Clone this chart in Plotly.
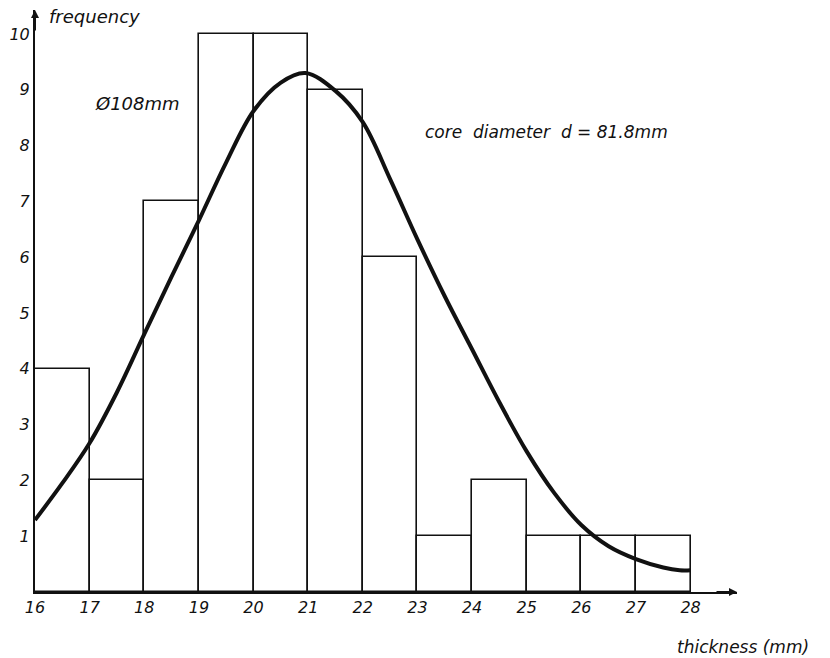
import plotly.graph_objects as go

# Histogram data: bins of width 1 mm starting at these left edges
bin_left = [16, 17, 18, 19, 20, 21, 22, 23, 24, 25, 26, 27]
counts = [4, 2, 7, 10, 10, 9, 6, 1, 2, 1, 1, 1]

# Fitted curve
curve_x = [16.0, 16.5, 17.0, 17.5, 18.0, 18.5, 19.0, 19.5, 20.0, 20.5, 20.95,
           21.5, 22.0, 22.5, 23.0, 23.5, 24.0, 24.5, 25.0, 25.5, 26.0, 26.5,
           27.0, 27.5, 27.8, 28.0]
curve_y = [1.29, 1.95, 2.67, 3.58, 4.62, 5.65, 6.66, 7.70, 8.62, 9.13, 9.30,
           8.98, 8.42, 7.40, 6.32, 5.30, 4.35, 3.40, 2.52, 1.78, 1.20, 0.82,
           0.59, 0.44, 0.39, 0.39]

x_ticks = list(range(16, 29))
y_ticks = list(range(1, 11))

FONT = "DejaVu Sans"
ink = "#111111"

fig = go.Figure()

fig.add_trace(go.Bar(
    x=[b + 0.5 for b in bin_left],
    y=counts,
    width=1,
    marker=dict(color="white", line=dict(color=ink, width=1.6)),
    hoverinfo="skip",
    showlegend=False,
))

fig.add_trace(go.Scatter(
    x=curve_x, y=curve_y,
    mode="lines",
    line=dict(color=ink, width=4, shape="spline", smoothing=1.0),
    hoverinfo="skip",
    showlegend=False,
))

fig.update_layout(
    width=830, height=658,
    margin=dict(l=35, r=93, t=10, b=66),
    paper_bgcolor="white", plot_bgcolor="white",
    bargap=0,
    xaxis=dict(
        range=[16, 28.85], showgrid=False, zeroline=False,
        showline=True, linecolor=ink, linewidth=2,
        tickvals=x_ticks, ticktext=[f"<i>{t}</i>" for t in x_ticks],
        ticks="", ticklen=0,
        tickfont=dict(family=FONT, size=16, color=ink),
    ),
    yaxis=dict(
        range=[0, 10.43], showgrid=False, zeroline=False,
        showline=True, linecolor=ink, linewidth=2,
        tickvals=y_ticks, ticktext=[f"<i>{t}</i>" for t in y_ticks],
        ticks="", ticklen=0,
        tickfont=dict(family=FONT, size=16, color=ink),
    ),
)

fig.add_annotation(x=0.017, y=0.988, xref="paper", yref="paper", text="<i>frequency</i>",
                   showarrow=False, xanchor="left", yanchor="middle",
                   font=dict(family=FONT, size=18, color=ink))
fig.add_annotation(x=17.06, y=8.76, xref="x", yref="y", text="<i>Ø108mm</i>",
                   showarrow=False, xanchor="left", yanchor="middle",
                   font=dict(family=FONT, size=18, color=ink))
fig.add_annotation(x=23.1, y=8.24, xref="x", yref="y",
                   text="<i>core  diameter  d = 81.8mm</i>",
                   showarrow=False, xanchor="left", yanchor="middle",
                   font=dict(family=FONT, size=17, color=ink))
fig.add_annotation(x=0.9117, y=-0.0945, xref="paper", yref="paper",
                   text="<i>thickness (mm)</i>",
                   showarrow=False, xanchor="left", yanchor="middle",
                   font=dict(family=FONT, size=17, color=ink))

# axis arrowheads
fig.add_annotation(x=28.85, y=0, xref="x", yref="y", ax=-22, ay=0, text="",
                   showarrow=True, arrowhead=2, arrowsize=0.8, arrowwidth=2, arrowcolor=ink)
fig.add_annotation(x=16, y=10.43, xref="x", yref="y", ax=0, ay=22, text="",
                   showarrow=True, arrowhead=2, arrowsize=0.8, arrowwidth=2, arrowcolor=ink)

fig.write_html("out.html")
